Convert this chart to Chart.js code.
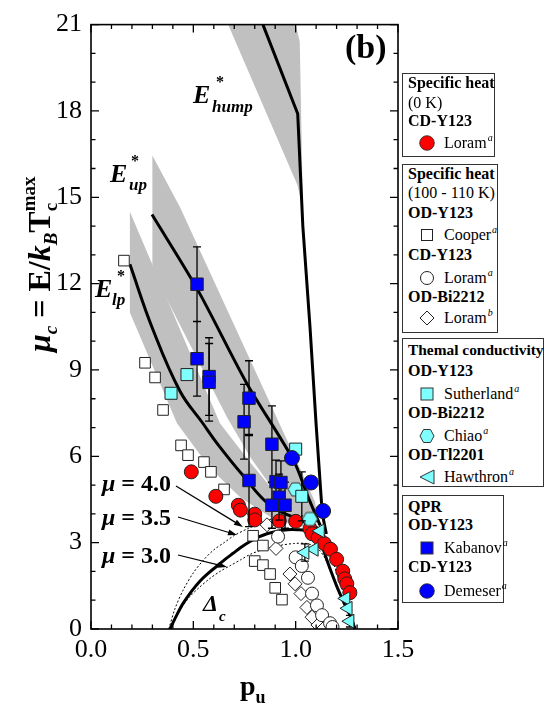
<!DOCTYPE html>
<html>
<head>
<meta charset="utf-8">
<script src="https://cdn.jsdelivr.net/npm/chart.js@4.4.1/dist/chart.umd.min.js"></script>
<style>
body { margin: 0; background: #fff; }
#wrap { position: relative; width: 549px; height: 713px; font-family: "Liberation Serif", "Times New Roman", serif; color: #000; }
#chart { position: absolute; left: 0; top: 0; }
.box { position: absolute; left: 402px; border: 1px solid #333; box-sizing: border-box; background: #fff; }
.ln { position: absolute; left: 408px; height: 20px; line-height: 20px; font-size: 16px; white-space: nowrap; }
.b { font-weight: bold; }
.it { left: 444px; }
.it sup { font-style: italic; font-size: 10px; line-height: 0; vertical-align: 7px; margin-left: 1px; }
.mk { position: absolute; left: 419px; width: 16px; height: 16px; }
</style>
</head>
<body>
<div id="wrap">
<canvas id="chart" width="549" height="713"></canvas>

<div class="box" style="top:73px;width:93px;height:84px"></div>
<div class="ln b" style="top:73px">Specific heat</div>
<div class="ln" style="top:93px">(0 K)</div>
<div class="ln b" style="top:111px">CD-Y123</div>
<svg class="mk" style="top:135px" viewBox="0 0 16 16"><circle cx="8" cy="8" r="7.3" fill="#ff0000" stroke="#222" stroke-width="0.8"/></svg>
<div class="ln it" style="top:133px">Loram<sup>a</sup></div>

<div class="box" style="top:164px;width:96px;height:169px"></div>
<div class="ln b" style="top:164px">Specific heat</div>
<div class="ln" style="top:183px">(100 - 110 K)</div>
<div class="ln b" style="top:203px">OD-Y123</div>
<svg class="mk" style="top:227px" viewBox="0 0 16 16"><rect x="2.5" y="2.5" width="11" height="11" fill="#fff" stroke="#222" stroke-width="1"/></svg>
<div class="ln it" style="top:225px">Cooper<sup>a</sup></div>
<div class="ln b" style="top:245px">CD-Y123</div>
<svg class="mk" style="top:270px" viewBox="0 0 16 16"><circle cx="8" cy="8" r="6.5" fill="#fff" stroke="#222" stroke-width="1"/></svg>
<div class="ln it" style="top:268px">Loram<sup>a</sup></div>
<div class="ln b" style="top:287px">OD-Bi2212</div>
<svg class="mk" style="top:310px" viewBox="0 0 16 16"><polygon points="8,1 15,8 8,15 1,8" fill="#fff" stroke="#222" stroke-width="1"/></svg>
<div class="ln it" style="top:308px">Loram<sup>b</sup></div>

<div class="box" style="top:338px;width:142px;height:149px"></div>
<div class="ln b" style="top:340px;font-size:15.4px">Themal conductivity</div>
<div class="ln b" style="top:361px">OD-Y123</div>
<svg class="mk" style="top:386px" viewBox="0 0 16 16"><rect x="2" y="2" width="12" height="12" fill="#80ffff" stroke="#333" stroke-width="1"/></svg>
<div class="ln it" style="top:384px">Sutherland<sup>a</sup></div>
<div class="ln b" style="top:403px">OD-Bi2212</div>
<svg class="mk" style="top:428px" viewBox="0 0 16 16"><polygon points="4.5,1.5 11.5,1.5 15,8 11.5,14.5 4.5,14.5 1,8" fill="#80ffff" stroke="#333" stroke-width="1"/></svg>
<div class="ln it" style="top:426px">Chiao<sup>a</sup></div>
<div class="ln b" style="top:445px">OD-Tl2201</div>
<svg class="mk" style="top:469px" viewBox="0 0 16 16"><polygon points="1,8 15,1 15,15" fill="#80ffff" stroke="#333" stroke-width="1"/></svg>
<div class="ln it" style="top:467px">Hawthron<sup>a</sup></div>

<div class="box" style="top:495px;width:102px;height:108px"></div>
<div class="ln b" style="top:497px">QPR</div>
<div class="ln b" style="top:515px">OD-Y123</div>
<svg class="mk" style="top:540px" viewBox="0 0 16 16"><rect x="2" y="2" width="12" height="12" fill="#0000ff" stroke="#333" stroke-width="1"/></svg>
<div class="ln it" style="top:538px">Kabanov<sup>a</sup></div>
<div class="ln b" style="top:557px">CD-Y123</div>
<svg class="mk" style="top:583px" viewBox="0 0 16 16"><circle cx="8" cy="8" r="7.3" fill="#0000ff" stroke="#222" stroke-width="0.8"/></svg>
<div class="ln it" style="top:581px">Demeser<sup>a</sup></div>
</div>

<script>
// axis ticks
const xTicks = [0.0, 0.5, 1.0, 1.5];
const yTicks = [0, 3, 6, 9, 12, 15, 18, 21];

// grey bands (closed outlines, p_u / mu_c)
const humpBandX = [0.67, 1.00, 1.02, 1.035, 1.03, 1.01, 0.67];
const humpBandY = [21.0, 21.0, 20.4, 14.8, 14.7, 15.4, 21.0];
const upBandX = [0.30, 0.435, 0.92, 1.02, 1.095, 1.11, 1.02, 0.90, 0.78, 0.665, 0.30];
const upBandY = [16.45, 14.65, 7.15, 5.6, 4.4, 3.7, 3.9, 4.75, 5.95, 7.35, 12.45];
const lpBandX = [0.19, 0.63, 0.78, 0.92, 1.045, 1.11, 1.02, 0.875, 0.73, 0.58, 0.42, 0.19];
const lpBandY = [14.5, 7.15, 5.77, 4.57, 3.9, 3.62, 3.55, 3.9, 4.57, 5.6, 7.15, 11.0];

// black curves
const humpX = [0.84, 1.01, 1.035, 1.07, 1.10, 1.13, 1.15];
const humpY = [21.0, 17.9, 14.0, 10.5, 7.1, 4.0, 3.3];
const upX = [0.298, 0.52, 0.76, 0.99, 1.06, 1.12];
const upY = [14.4, 11.8, 8.55, 5.85, 4.6, 3.6];
const lpX = [0.19, 0.30, 0.435, 0.547, 0.616, 0.743, 0.875, 1.02, 1.11];
const lpY = [12.67, 10.45, 8.26, 7.14, 6.45, 5.33, 4.30, 3.79, 3.5];
const domeX = [0.386, 0.42, 0.45, 0.49, 0.533, 0.575, 0.616, 0.655, 0.694, 0.735, 0.777, 0.82, 0.86, 0.91, 0.96, 1.01, 1.06, 1.10, 1.13, 1.16, 1.20, 1.24, 1.27, 1.29];
const domeY = [0, 0.5, 0.89, 1.3, 1.67, 1.95, 2.19, 2.42, 2.63, 2.85, 3.04, 3.2, 3.31, 3.4, 3.45, 3.45, 3.42, 3.3, 2.85, 2.25, 1.5, 0.85, 0.4, 0];
const mu4X = [0.38, 0.41, 0.45, 0.5, 0.55, 0.6, 0.65, 0.7, 0.77, 0.84, 0.91, 0.98, 1.04, 1.09, 1.13, 1.16, 1.20, 1.24, 1.27, 1.29];
const mu4Y = [0, 0.7, 1.35, 1.95, 2.4, 2.75, 3.0, 3.25, 3.5, 3.72, 3.88, 3.95, 3.92, 3.8, 3.45, 2.85, 1.95, 1.1, 0.5, 0];
const mu3X = [0.39, 0.43, 0.48, 0.53, 0.58, 0.63, 0.68, 0.73, 0.78, 0.85, 0.92, 0.99, 1.05, 1.10, 1.14, 1.17, 1.21, 1.25, 1.28, 1.295];
const mu3Y = [0, 0.6, 1.1, 1.45, 1.75, 2.0, 2.2, 2.4, 2.6, 2.78, 2.9, 2.97, 2.97, 2.85, 2.5, 2.0, 1.35, 0.75, 0.3, 0];

// Specific heat 0 K, CD-Y123, Loram
const loram0X = [0.49, 0.61, 0.72, 0.73, 0.80, 0.80, 0.92, 1.00, 1.07, 1.08, 1.11, 1.14, 1.17, 1.20, 1.23, 1.24, 1.25, 1.265];
const loram0Y = [5.46, 4.61, 4.30, 4.13, 3.99, 3.79, 3.75, 3.74, 3.48, 3.31, 3.18, 2.97, 2.77, 2.42, 2.01, 1.74, 1.57, 1.26];
// Specific heat 100-110 K
const cooperX = [0.161, 0.264, 0.313, 0.352, 0.44, 0.474, 0.552, 0.586, 0.65, 0.792, 0.84, 0.80, 0.84, 0.875, 0.90, 0.933];
const cooperY = [12.8, 9.25, 8.74, 7.61, 6.38, 6.04, 5.80, 5.46, 4.85, 3.24, 2.9, 2.36, 2.22, 1.91, 1.43, 1.02];
const loramCdX = [0.914, 1.0, 1.03, 1.06, 1.08, 1.104, 1.129, 1.168, 1.18];
const loramCdY = [3.21, 2.49, 2.19, 1.78, 1.23, 0.82, 0.48, 0.2, 0.07];
const loramBiX = [0.86, 0.904, 0.972, 0.997, 1.026, 1.055, 1.08, 1.109, 1.138];
const loramBiY = [3.62, 2.8, 1.91, 1.57, 1.23, 0.75, 0.41, 0.14, 0.03];
// Thermal conductivity
const sutherX = [0.391, 0.469, 1.0, 1.03];
const sutherY = [8.19, 8.84, 6.25, 4.61];
const sutherErr = [0, 0, 0, 0.85];
const chiaoX = [1.0, 1.07];
const chiaoY = [4.85, 3.82];
const hawthX = [1.12, 1.09, 1.045, 1.245, 1.256, 1.265];
const hawthY = [3.41, 2.77, 2.66, 1.06, 0.72, 0.27];
const hawthErr = [0, 0, 0.3, 0, 0, 0.2];
// QPR
const kabX = [0.518, 0.518, 0.577, 0.577, 0.772, 0.748, 0.884, 0.772, 0.904, 0.928, 0.919, 0.884, 0.948];
const kabY = [11.98, 9.39, 8.77, 8.57, 8.02, 7.2, 6.42, 5.16, 5.12, 5.09, 4.58, 4.30, 4.30];
const kabErr = [1.3, 1.3, 1.35, 1.35, 1.3, 1.3, 1.33, 1.6, 0.75, 0.75, 0.8, 0.8, 0.8];
const demX = [0.982, 1.075, 1.134];
const demY = [5.94, 5.09, 4.1];

const errBars = { Sutherland: sutherErr, Hawthron: hawthErr, Kabanov: kabErr };

const SERIF = '"Liberation Serif", "Times New Roman", serif';
const pts = (xs, ys) => xs.map((x, i) => ({ x: x, y: ys[i] }));

function band(xs, ys) {
    return { data: pts(xs, ys), showLine: true, fill: 'shape', backgroundColor: '#c0c0c0',
        borderColor: 'rgba(0,0,0,0)', borderWidth: 0, pointRadius: 0, order: 10 };
}
function curve(xs, ys, width, dash, tension) {
    return { data: pts(xs, ys), showLine: true, fill: false, borderColor: '#000', borderWidth: width,
        borderDash: dash, tension: tension, pointRadius: 0, order: dash.length ? 9 : 8 };
}
function marks(label, xs, ys, style, r, color, order, rot) {
    return { label: label, data: pts(xs, ys), pointStyle: style, pointRadius: r, pointRotation: rot || 0,
        backgroundColor: color, borderColor: '#222', borderWidth: 1, order: order };
}

// hexagon marker for Chiao
const hex = document.createElement('canvas');
hex.width = 17; hex.height = 17;
(function () {
    const c = hex.getContext('2d');
    c.beginPath();
    for (let k = 0; k < 6; k++) {
        const a = Math.PI / 3 * k;
        c.lineTo(8.5 + 7.5 * Math.cos(a), 8.5 + 7.5 * Math.sin(a));
    }
    c.closePath();
    c.fillStyle = '#80ffff'; c.fill();
    c.strokeStyle = '#333'; c.lineWidth = 1; c.stroke();
})();

const frame = {
    id: 'frame',
    beforeDatasetDraw(chart, args) {
        const errs = errBars[args.meta.label];
        if (!errs) return;
        const { ctx } = chart;
        const y = chart.scales.y;
        ctx.save();
        ctx.strokeStyle = '#000';
        ctx.lineWidth = 1.3;
        args.meta.data.forEach((p, i) => {
            const e = errs[i];
            if (!e) return;
            const v = chart.data.datasets[args.index].data[i].y;
            const t = y.getPixelForValue(v + e), b = y.getPixelForValue(v - e);
            ctx.beginPath();
            ctx.moveTo(p.x, t); ctx.lineTo(p.x, b);
            ctx.moveTo(p.x - 4, t); ctx.lineTo(p.x + 4, t);
            ctx.moveTo(p.x - 4, b); ctx.lineTo(p.x + 4, b);
            ctx.stroke();
        });
        ctx.restore();
    },
    afterDatasetsDraw(chart) {
        const { ctx, chartArea: a, scales: { x, y } } = chart;
        ctx.save();
        ctx.strokeStyle = '#000';
        ctx.lineWidth = 1.6;
        ctx.strokeRect(a.left, a.top, a.right - a.left, a.bottom - a.top);
        ctx.lineWidth = 1.3;
        ctx.beginPath();
        for (let i = 0; i <= 15; i++) {
            const px = x.getPixelForValue(i / 10), len = i % 5 === 0 ? 8 : 4.5;
            ctx.moveTo(px, a.bottom); ctx.lineTo(px, a.bottom - len);
            ctx.moveTo(px, a.top); ctx.lineTo(px, a.top + len);
        }
        for (let j = 0; j <= 21; j++) {
            const py = y.getPixelForValue(j), len = j % 3 === 0 ? 8 : 4.5;
            ctx.moveTo(a.left, py); ctx.lineTo(a.left + len, py);
            ctx.moveTo(a.right, py); ctx.lineTo(a.right - len, py);
        }
        ctx.stroke();
        ctx.restore();
    },
    afterDraw(chart) {
        const ctx = chart.ctx;
        const put = (s, px, py, font) => { ctx.font = font + ' ' + SERIF; ctx.fillText(s, px, py); return px + ctx.measureText(s).width; };
        ctx.save();
        ctx.fillStyle = '#000';
        ctx.textBaseline = 'alphabetic';
        ctx.textAlign = 'left';

        put('(b)', 345, 58, 'bold 34px');

        put('E', 193, 103, 'bold italic 26px'); put('*', 216, 87, 'bold 16px'); put('hump', 212, 112, 'bold italic 17px');
        put('E', 110, 182, 'bold italic 26px'); put('*', 131, 166, 'bold 16px'); put('up', 129, 190, 'bold italic 17px');
        put('E', 95, 297, 'bold italic 26px'); put('*', 117, 281, 'bold 16px'); put('lp', 112, 305, 'bold italic 17px');

        [['4.0', 491], ['3.5', 525], ['3.0', 563]].forEach(([s, by]) => {
            const e = put('\u03bc', 102, by, 'bold italic 24px');
            put(' = ' + s, e, by, 'bold 24px');
        });
        put('\u0394', 203, 611, 'bold italic 24px');
        put('c', 219, 621, 'bold italic 15px');

        const arrow = (x0, y0, x1, y1) => {
            const ang = Math.atan2(y1 - y0, x1 - x0);
            ctx.lineWidth = 1.2; ctx.strokeStyle = '#000';
            ctx.beginPath(); ctx.moveTo(x0, y0); ctx.lineTo(x1 - 6 * Math.cos(ang), y1 - 6 * Math.sin(ang)); ctx.stroke();
            ctx.beginPath();
            ctx.moveTo(x1, y1);
            ctx.lineTo(x1 - 9 * Math.cos(ang) + 3 * Math.sin(ang), y1 - 9 * Math.sin(ang) - 3 * Math.cos(ang));
            ctx.lineTo(x1 - 9 * Math.cos(ang) - 3 * Math.sin(ang), y1 - 9 * Math.sin(ang) + 3 * Math.cos(ang));
            ctx.closePath(); ctx.fill();
        };
        arrow(176, 486, 243, 527);
        arrow(178, 517, 237, 535);
        arrow(178, 555, 227, 567);

        // x axis title
        const pe = put('p', 240, 695, 'bold 28px');
        put('u', pe, 703, 'bold 18px');

        // y axis title, rotated
        ctx.translate(50, 352);
        ctx.rotate(-Math.PI / 2);
        let cx = put('\u03bc', 0, 0, 'bold italic 32px');
        cx = put('c', cx, 7, 'bold italic 19px');
        cx = put(' = E/', cx, 0, 'bold 32px');
        cx = put('k', cx, 0, 'bold italic 32px');
        cx = put('B', cx, 7, 'bold italic 19px');
        cx = put('T', cx, 0, 'bold 32px');
        put('c', cx, 7, 'bold 19px');
        put('max', cx, -15, 'bold 19px');
        ctx.restore();
    }
};

const tickFont = { family: SERIF, size: 26 };

new Chart(document.getElementById('chart'), {
    type: 'scatter',
    data: {
        datasets: [
            band(humpBandX, humpBandY),
            band(upBandX, upBandY),
            band(lpBandX, lpBandY),
            curve(mu4X, mu4Y, 1, [2, 2], 0.3),
            curve(mu3X, mu3Y, 1, [2, 2], 0.3),
            curve(domeX, domeY, 3, [], 0.3),
            curve(humpX, humpY, 3, [], 0),
            curve(upX, upY, 3, [], 0.3),
            curve(lpX, lpY, 3, [], 0.4),
            marks('Cooper', cooperX, cooperY, 'rect', 7.5, '#ffffff', 6),
            marks('LoramCD', loramCdX, loramCdY, 'circle', 6.5, '#ffffff', 6),
            marks('LoramBi', loramBiX, loramBiY, 'rectRot', 7, '#ffffff', 6),
            marks('Loram0', loram0X, loram0Y, 'circle', 7, '#ff0000', 5),
            marks('Sutherland', sutherX, sutherY, 'rect', 8.5, '#80ffff', 4),
            marks('Chiao', chiaoX, chiaoY, hex, 8, '#80ffff', 4),
            marks('Hawthron', hawthX, hawthY, 'triangle', 8, '#80ffff', 4, -90),
            marks('Kabanov', kabX, kabY, 'rect', 8.8, '#0000ff', 3),
            marks('Demeser', demX, demY, 'circle', 7.5, '#0000ff', 2)
        ]
    },
    options: {
        responsive: false,
        animation: false,
        events: [],
        layout: { padding: { top: 15, right: 151, left: 0, bottom: 0 } },
        plugins: { legend: { display: false }, tooltip: { enabled: false } },
        scales: {
            x: {
                type: 'linear', min: 0, max: 1.5,
                afterFit(s) { s.height = 84; },
                afterBuildTicks(s) { s.ticks = xTicks.map(v => ({ value: v })); },
                ticks: { font: tickFont, color: '#000', padding: 6, maxRotation: 0, callback: v => v.toFixed(1) },
                grid: { display: false, drawTicks: false },
                border: { display: false }
            },
            y: {
                type: 'linear', min: 0, max: 21,
                afterFit(s) { s.width = 91; },
                afterBuildTicks(s) { s.ticks = yTicks.map(v => ({ value: v })); },
                ticks: { font: tickFont, color: '#000', padding: 9 },
                grid: { display: false, drawTicks: false },
                border: { display: false }
            }
        }
    },
    plugins: [frame]
});
</script>
</body>
</html>
